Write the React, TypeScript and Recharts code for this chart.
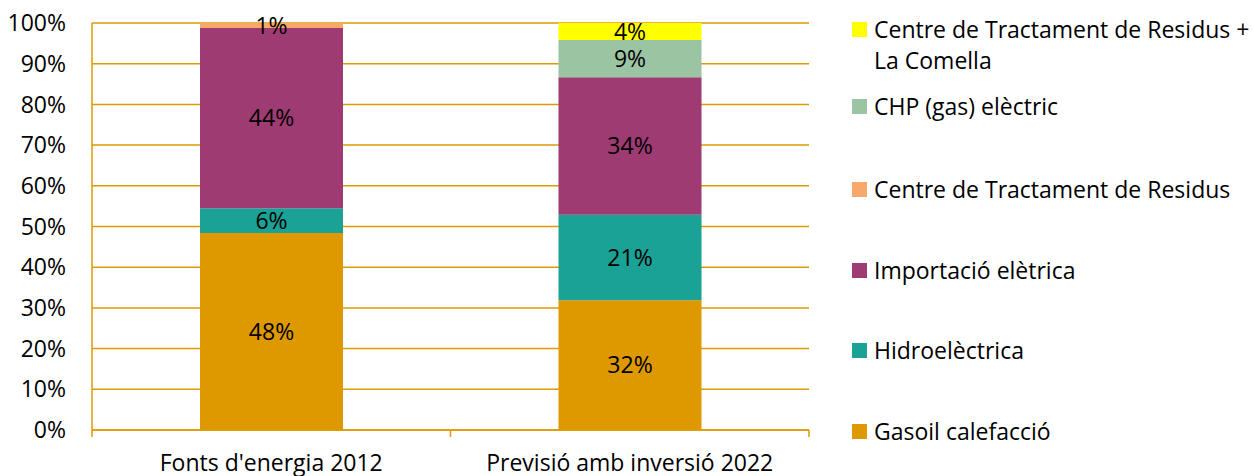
import { Bar, BarChart, CartesianGrid, LabelList, XAxis, YAxis } from 'recharts';

const ORANGE = '#DE9A00';
const FONT = '"Open Sans", Calibri, sans-serif';
const FS = 23;

const categories = ["Fonts d'energia 2012", 'Previsió amb inversió 2022'];
const gasoil = [48.4, 31.9];
const hidro = [6.1, 21.0];
const importacio = [44.3, 33.8];
const ctr = [1.2, 0];
const chp = [0, 9.1];
const ctrComella = [0, 4.2];
const yTicks = [0, 10, 20, 30, 40, 50, 60, 70, 80, 90, 100];

// bottom-up stacking order
const series = [
  { key: 'gasoil', name: 'Gasoil calefacció', color: '#DE9800', values: gasoil },
  { key: 'hidro', name: 'Hidroelèctrica', color: '#1AA296', values: hidro },
  { key: 'importacio', name: 'Importació elètrica', color: '#9E3B72', values: importacio },
  { key: 'ctr', name: 'Centre de Tractament de Residus', color: '#F9A86C', values: ctr },
  { key: 'chp', name: 'CHP (gas) elèctric', color: '#9BC4A3', values: chp },
  { key: 'ctrComella', name: 'Centre de Tractament de Residus + La Comella', color: '#FFFF00', values: ctrComella },
];

const data = categories.map((cat, i) => {
  const row: Record<string, string | number> = { cat };
  series.forEach((s) => (row[s.key] = s.values[i]));
  return row;
});

const W = 1254;
const H = 476;
const PLOT_LEFT = 92;
const PLOT_RIGHT = 809;
const HALF_BAND = (PLOT_RIGHT - PLOT_LEFT) / categories.length / 2;

// category label plus boundary tick marks between categories
function CatTick(props: any) {
  const { x, y, payload, index } = props;
  return (
    <g>
      {index === 0 && (
        <line x1={x - HALF_BAND} x2={x - HALF_BAND} y1={y} y2={y + 7} stroke={ORANGE} strokeWidth={1.5} />
      )}
      <line x1={x + HALF_BAND} x2={x + HALF_BAND} y1={y} y2={y + 7} stroke={ORANGE} strokeWidth={1.5} />
      <text x={x} y={y + 33} dy="0.35em" textAnchor="middle" fontSize={FS} fill="#000" fontFamily={FONT}>
        {payload.value}
      </text>
    </g>
  );
}

const legendTops = [14, 91, 174, 255, 335, 416];

export default function App() {
  const legendItems = [...series].reverse();
  return (
    <div style={{ position: 'relative', width: W, height: H, fontFamily: FONT, background: '#fff' }}>
      <style>{'body{margin:0}'}</style>
      <BarChart
        width={W}
        height={H}
        data={data}
        margin={{ top: 23, right: W - PLOT_RIGHT, bottom: 0, left: 0 }}
      >
        <CartesianGrid vertical={false} stroke={ORANGE} strokeWidth={1.5} />
        <XAxis
          dataKey="cat"
          tickLine={false}
          axisLine={{ stroke: ORANGE, strokeWidth: 1.5 }}
          tickSize={0}
          tickMargin={0}
          height={46}
          tick={<CatTick />}
          interval={0}
        />
        <YAxis
          domain={[0, 100]}
          ticks={yTicks}
          tickFormatter={(v) => `${v}%`}
          width={PLOT_LEFT}
          tickLine={false}
          tickMargin={20}
          axisLine={{ stroke: ORANGE, strokeWidth: 1.5 }}
          tick={{ fontSize: FS, fill: '#000', fontFamily: FONT }}
          interval={0}
        />
        <YAxis
          yAxisId="border"
          orientation="right"
          width={0}
          tick={false}
          tickLine={false}
          axisLine={{ stroke: ORANGE, strokeWidth: 1.5 }}
        />
        {series.map((s) => (
          <Bar key={s.key} dataKey={s.key} name={s.name} stackId="a" fill={s.color} barSize={143} isAnimationActive={false}>
            <LabelList
              dataKey={s.key}
              position="center"
              formatter={(v: any) => (v ? `${Math.round(Number(v))}%` : '')}
              fill="#000"
              fontSize={FS}
              fontFamily={FONT}
            />
          </Bar>
        ))}
      </BarChart>
      {legendItems.map((s, i) => (
        <div
          key={s.key}
          style={{
            position: 'absolute',
            left: 852,
            top: legendTops[i],
            display: 'flex',
            alignItems: 'flex-start',
            fontSize: FS,
            lineHeight: '31px',
            color: '#000',
          }}
        >
          <span style={{ width: 15, height: 15, background: s.color, marginTop: 8, marginRight: 7, flexShrink: 0 }} />
          <span style={{ width: 395 }}>{s.name}</span>
        </div>
      ))}
    </div>
  );
}
